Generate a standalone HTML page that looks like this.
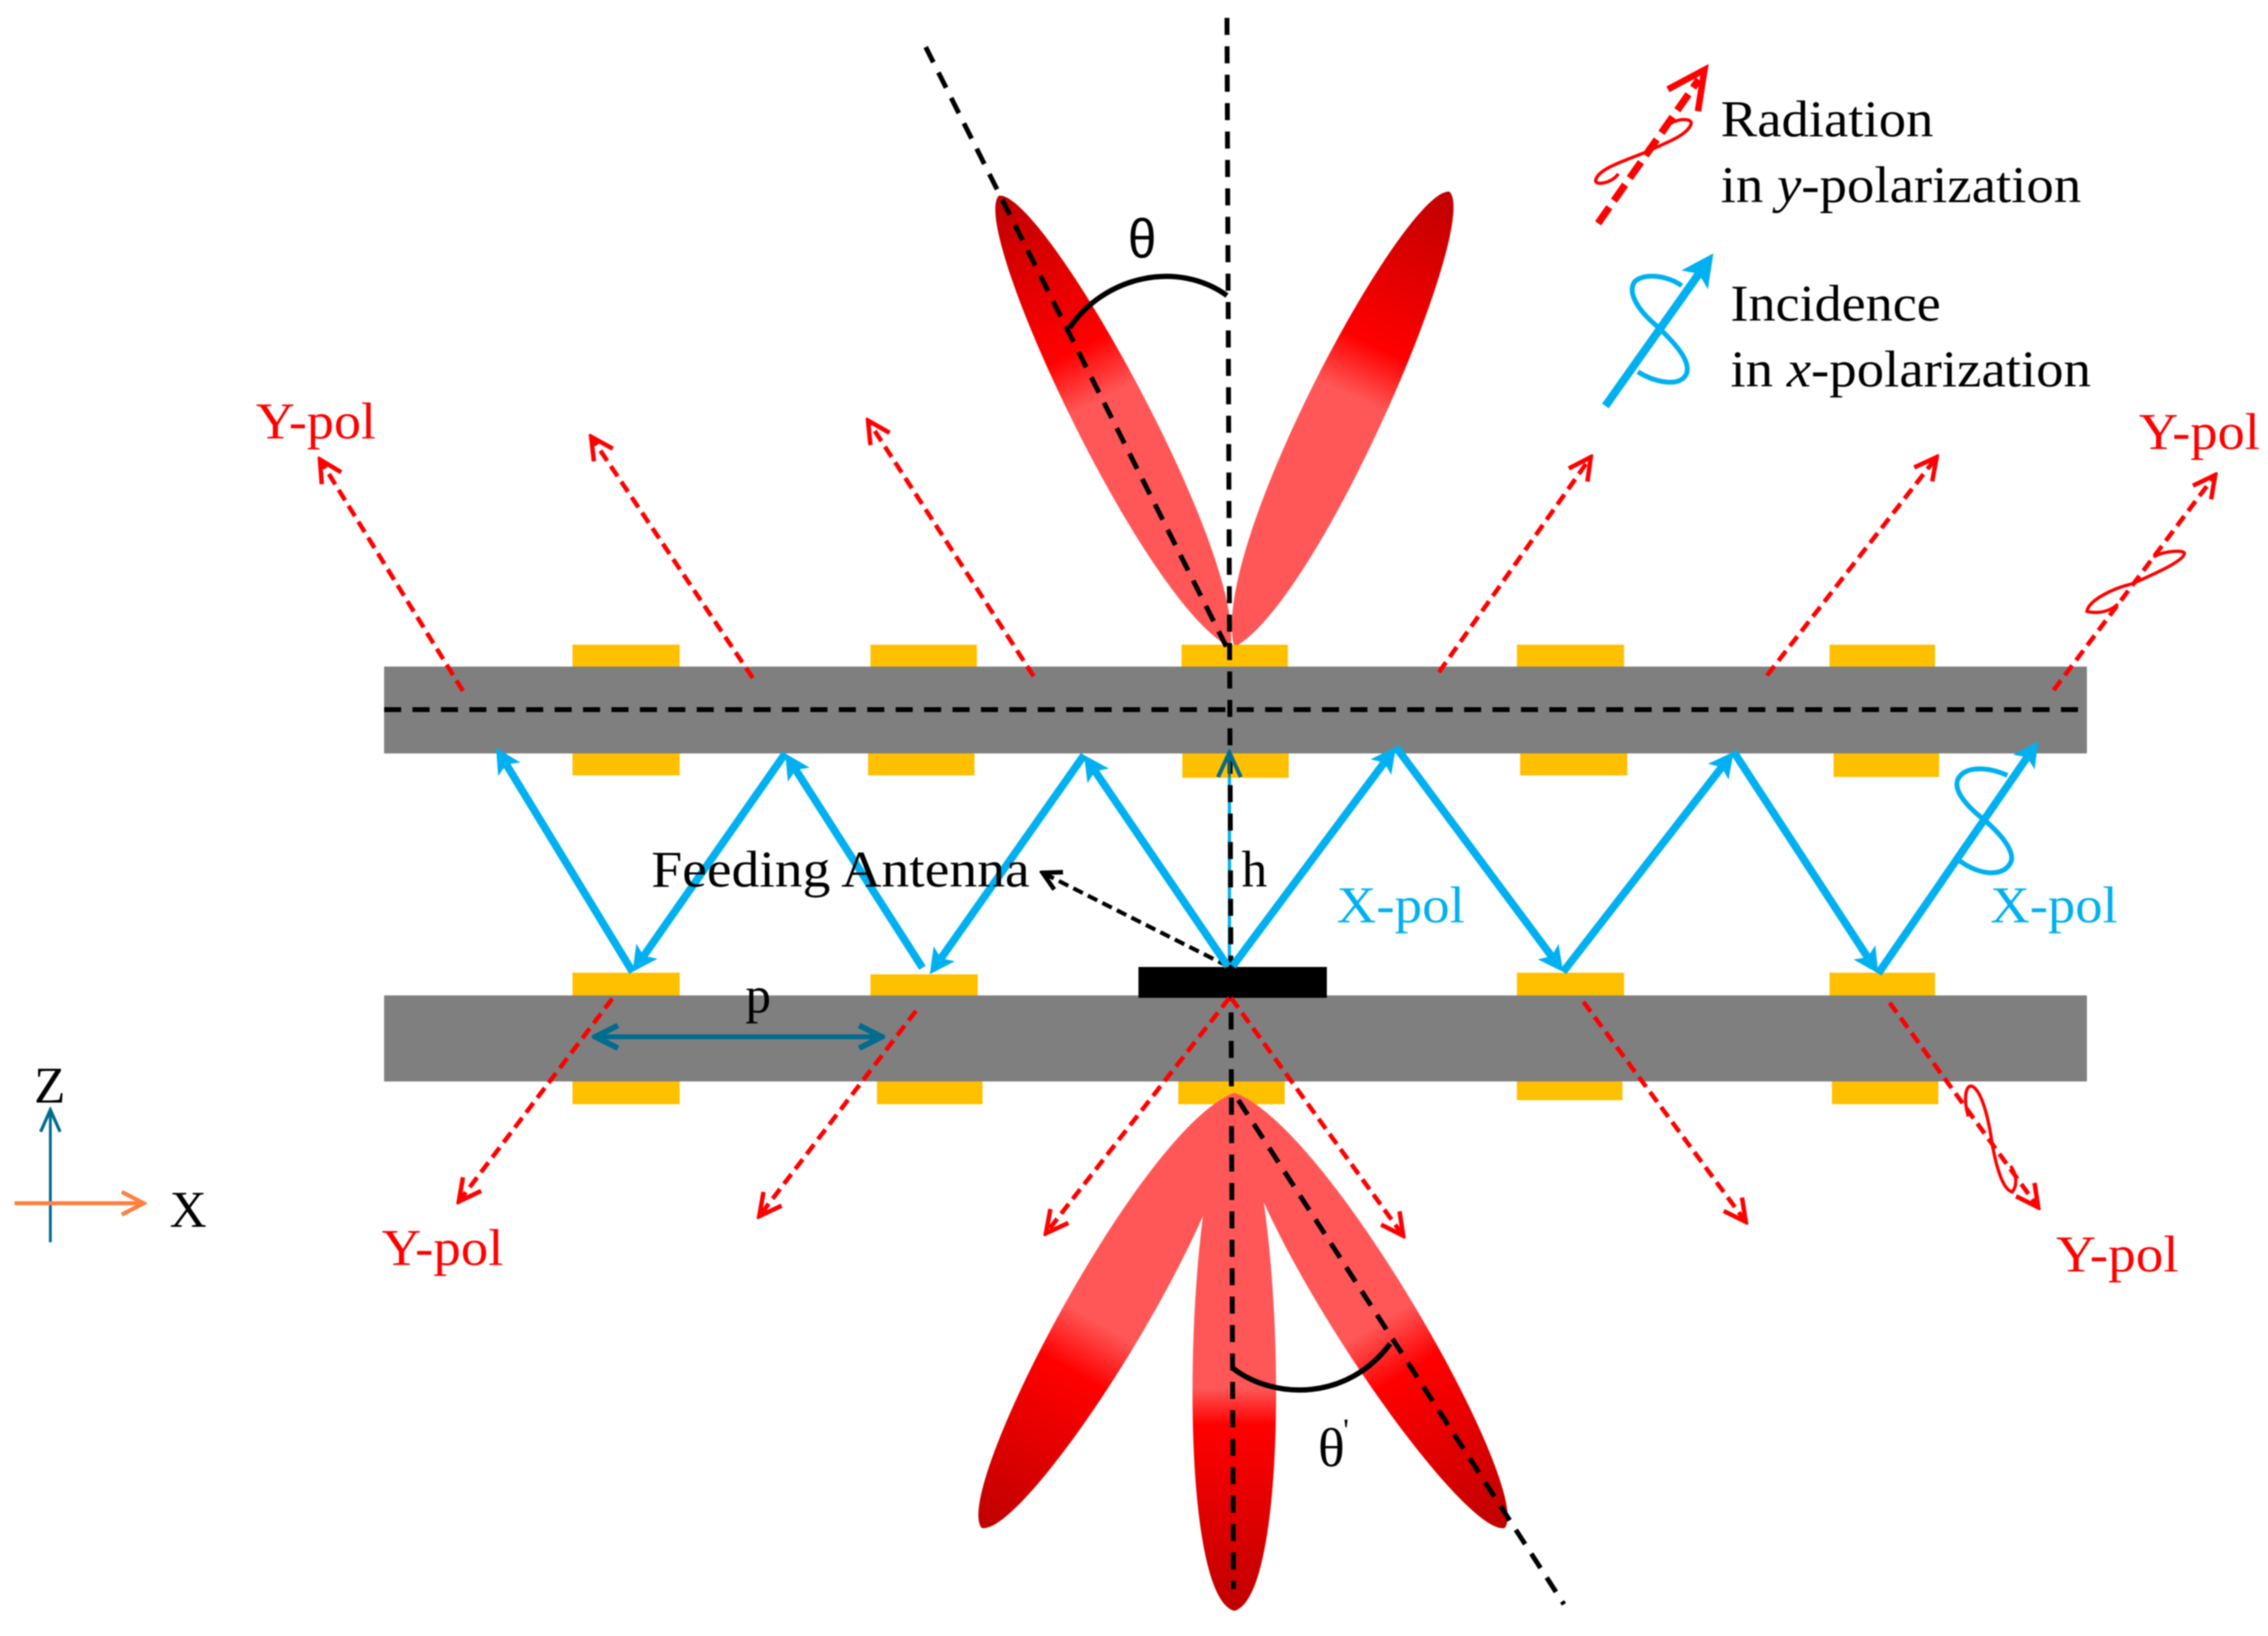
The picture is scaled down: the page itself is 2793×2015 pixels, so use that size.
<!DOCTYPE html>
<html><head><meta charset="utf-8"><style>
html,body{margin:0;padding:0;background:#fff;width:2793px;height:2015px;overflow:hidden}
svg{display:block;filter:blur(.9px)}
text{font-family:"Liberation Serif",serif;font-size:63px}
.r{fill:#ff0000}.b{fill:#00b0f0}.k{fill:#000}
.rd{stroke:#ff0000;stroke-width:5.5;stroke-dasharray:15 8;fill:none;marker-end:url(#mr)}
.bl{stroke:#00b0f0;stroke-width:9.5;fill:none;stroke-dasharray:95 100;marker-end:url(#mb)}
.kd{stroke:#000;stroke-width:6;stroke-dasharray:21 14;fill:none}
.rl{stroke:#ff0000;stroke-width:4;fill:none}
.bo{stroke:#00b0f0;stroke-width:6;fill:none}
</style></head><body>
<svg width="2793" height="2015" viewBox="0 0 2793 2015" xmlns="http://www.w3.org/2000/svg">
<defs>
<marker id="mr" markerUnits="userSpaceOnUse" viewBox="-40 -20 44 40" markerWidth="44" markerHeight="40" refX="0" refY="0" orient="auto"><path d="M-27,-14 L0,0 L-27,14" fill="none" stroke="#ff0000" stroke-width="5.5"/></marker>
<marker id="mk" markerUnits="userSpaceOnUse" viewBox="-40 -20 44 40" markerWidth="44" markerHeight="40" refX="0" refY="0" orient="auto"><path d="M-22,-12 L0,0 L-22,12" fill="none" stroke="#000" stroke-width="5.5"/></marker>
<marker id="mb" markerUnits="userSpaceOnUse" viewBox="-40 -20 44 40" markerWidth="44" markerHeight="40" refX="0" refY="0" orient="auto"><path d="M0,0 L-31,-16 L-24,0 L-31,16 Z" fill="#00b0f0"/></marker>
<marker id="mbl" markerUnits="userSpaceOnUse" viewBox="-50 -25 54 50" markerWidth="54" markerHeight="50" refX="0" refY="0" orient="auto"><path d="M0,0 L-40,-20 L-31,0 L-40,20 Z" fill="#00b0f0"/></marker>
<marker id="mt" markerUnits="userSpaceOnUse" viewBox="-40 -20 44 40" markerWidth="44" markerHeight="40" refX="0" refY="0" orient="auto"><path d="M-30,-14 L0,0 L-30,14" fill="none" stroke="#006c8e" stroke-width="5"/></marker>
<marker id="mts" markerUnits="userSpaceOnUse" viewBox="-40 -20 44 40" markerWidth="44" markerHeight="40" refX="0" refY="0" orient="auto-start-reverse"><path d="M-28,-14 L0,0 L-28,14" fill="none" stroke="#006c8e" stroke-width="7"/></marker>
<marker id="mz" markerUnits="userSpaceOnUse" viewBox="-40 -20 44 40" markerWidth="44" markerHeight="40" refX="0" refY="0" orient="auto"><path d="M-27,-12 L0,0 L-27,12" fill="none" stroke="#006c8e" stroke-width="4"/></marker>
<marker id="mx" markerUnits="userSpaceOnUse" viewBox="-40 -20 44 40" markerWidth="44" markerHeight="40" refX="0" refY="0" orient="auto"><path d="M-27,-14 L0,0 L-27,14" fill="none" stroke="#ff7f3f" stroke-width="5"/></marker>
<linearGradient id="g1" gradientUnits="userSpaceOnUse" x1="1230" y1="241" x2="1515" y2="797"><stop offset="0" stop-color="#bf0000"/><stop offset=".34" stop-color="#ff0000"/><stop offset=".45" stop-color="#ff5757"/><stop offset="1" stop-color="#ff5757"/></linearGradient>
<linearGradient id="g2" gradientUnits="userSpaceOnUse" x1="1785" y1="236" x2="1520" y2="797"><stop offset="0" stop-color="#bf0000"/><stop offset=".34" stop-color="#ff0000"/><stop offset=".45" stop-color="#ff5757"/><stop offset="1" stop-color="#ff5757"/></linearGradient>
<linearGradient id="g3" gradientUnits="userSpaceOnUse" x1="1209" y1="1882" x2="1520" y2="1346"><stop offset="0" stop-color="#bf0000"/><stop offset=".36" stop-color="#ff0000"/><stop offset=".47" stop-color="#ff5757"/><stop offset="1" stop-color="#ff5757"/></linearGradient>
<linearGradient id="g4" gradientUnits="userSpaceOnUse" x1="1853" y1="1882" x2="1520" y2="1346"><stop offset="0" stop-color="#bf0000"/><stop offset=".36" stop-color="#ff0000"/><stop offset=".47" stop-color="#ff5757"/><stop offset="1" stop-color="#ff5757"/></linearGradient>
<linearGradient id="g5" gradientUnits="userSpaceOnUse" x1="1520" y1="1984" x2="1520" y2="1346"><stop offset="0" stop-color="#bf0000"/><stop offset=".36" stop-color="#ff0000"/><stop offset=".43" stop-color="#ff5757"/><stop offset="1" stop-color="#ff5757"/></linearGradient>
</defs>
<rect width="2793" height="2015" fill="#fff"/>

<!-- top lobes -->
<path d="M1515 797 C1410.1 745.7 1192.4 281.5 1230 241 C1284.8 233.9 1534.4 681.5 1515 797 Z" fill="url(#g1)"/>
<path d="M1520 797 C1623.1 742.8 1824.1 275 1785 236 C1729.9 230.6 1487 678 1520 797 Z" fill="url(#g2)"/>

<!-- patches -->
<g fill="#ffc000">
<rect x="705" y="794" width="132" height="30"/><rect x="1072" y="794" width="131" height="30"/><rect x="1455" y="794" width="131" height="30"/><rect x="1868" y="794" width="132" height="30"/><rect x="2253" y="794" width="130" height="30"/>
<rect x="705" y="925" width="132" height="30"/><rect x="1069" y="925" width="131" height="30"/><rect x="1456" y="925" width="131" height="33"/><rect x="1872" y="925" width="132" height="30"/><rect x="2258" y="925" width="130" height="32"/>
<rect x="705" y="1198" width="132" height="32"/><rect x="1072" y="1200" width="132" height="32"/><rect x="1868" y="1198" width="132" height="32"/><rect x="2253" y="1198" width="130" height="32"/>
<rect x="705" y="1329" width="132" height="31"/><rect x="1080" y="1329" width="130" height="31"/><rect x="1451" y="1329" width="131" height="31"/><rect x="1868" y="1329" width="130" height="26"/><rect x="2256" y="1329" width="131" height="31"/>
</g>
<!-- plates -->
<rect x="473" y="821" width="2097" height="107" fill="#7f7f7f"/>
<rect x="473" y="1226" width="2097" height="106" fill="#7f7f7f"/>
<rect x="1402" y="1191" width="232" height="38" fill="#000"/>

<!-- bottom lobes -->
<path d="M1520 1346 C1405.9 1387.2 1170.7 1838.3 1209 1882 C1265.9 1893.5 1540.8 1465.6 1520 1346 Z" fill="url(#g3)"/>
<path d="M1520 1346 C1636.2 1385.2 1889.7 1836.9 1853 1882 C1796.3 1894.9 1503.8 1467.6 1520 1346 Z" fill="url(#g4)"/>
<path d="M1520 1346 C1458 1442 1445 1965 1520 1984 C1595 1965 1582 1442 1520 1346 Z" fill="url(#g5)"/>

<!-- black dashed axes -->
<line class="kd" x1="473" y1="874" x2="2570" y2="874"/>
<line x1="1514" y1="957" x2="1514" y2="1190" stroke="#00b0f0" stroke-width="4"/>
<line class="kd" x1="1511" y1="22" x2="1519" y2="1957"/>
<line class="kd" x1="1140" y1="58" x2="1512" y2="800"/>
<line class="kd" x1="1525" y1="1355" x2="1926" y2="1976"/>
<line x1="1514" y1="1190" x2="1514" y2="927" stroke="none" marker-end="url(#mt)"/>
<path d="M1514 927 L1514 957" stroke="#006c8e" stroke-width="3"/>
<line x1="1512" y1="1190" x2="1284" y2="1075" stroke="#000" stroke-width="5" stroke-dasharray="13 7" marker-end="url(#mk)"/>

<!-- arcs -->
<path d="M1317 404 C1360 340 1450 320 1511 364" fill="none" stroke="#000" stroke-width="6.5"/>
<path d="M1518 1685 C1570 1725 1660 1725 1712 1655" fill="none" stroke="#000" stroke-width="6.5"/>

<!-- red dashed arrows -->
<path class="rd" d="M570 851 L394 566"/>
<path class="rd" d="M927 835 L728 538"/>
<path class="rd" d="M1273 833 L1069 518"/>
<path class="rd" d="M1772 828 L1959 563"/>
<path class="rd" d="M2176 832 L2385 563"/>
<path class="rd" d="M2529 850 L2728 585"/>
<path class="rd" d="M754 1230 L565 1480"/>
<path class="rd" d="M1128 1245 L935 1498"/>
<path class="rd" d="M1514 1229 L1288 1519"/>
<path class="rd" d="M1516 1229 L1728 1522"/>
<path class="rd" d="M1950 1234 L2150 1505"/>
<path class="rd" d="M2327 1235 L2510 1487"/>

<!-- blue zigzag -->
<g>
<line class="bl" x1="1512" y1="1190" x2="1335" y2="930" pathLength="100"/>
<line class="bl" x1="1335" y1="930" x2="1145" y2="1200" pathLength="100"/>
<line class="bl" x1="1136" y1="1192" x2="967" y2="928" pathLength="100"/>
<line class="bl" x1="967" y1="928" x2="779" y2="1197" pathLength="100"/>
<line class="bl" x1="779" y1="1197" x2="611" y2="921" pathLength="100"/>
<line class="bl" x1="1518" y1="1190" x2="1719" y2="920" pathLength="100"/>
<line class="bl" x1="1719" y1="920" x2="1925" y2="1197" pathLength="100"/>
<line class="bl" x1="1925" y1="1197" x2="2135" y2="926" pathLength="100"/>
<line class="bl" x1="2135" y1="926" x2="2313" y2="1199" pathLength="100"/>
<line class="bl" x1="2313" y1="1199" x2="2510" y2="913" pathLength="100"/>
</g>

<!-- pol loops -->
<path class="bo" d="M2472 955 C2450 945 2420 942 2411 960 C2405 975 2425 995 2440 1007 C2460 1023 2480 1045 2477 1060 C2470 1080 2440 1080 2413 1060"/>
<path class="rl" d="M2652 686 C2665 678 2692 677 2690 682 C2688 692 2650 708 2626 719 C2600 725 2572 740 2570 753 C2585 757 2600 752 2608 744"/>
<path class="rl" d="M2424 1375 C2418 1355 2420 1335 2429 1338 C2442 1345 2450 1385 2453 1407 C2457 1430 2465 1465 2478 1468 C2485 1460 2483 1445 2476 1436"/>

<!-- p arrow and axes -->
<line x1="733" y1="1277" x2="1086" y2="1277" stroke="#006c8e" stroke-width="6" marker-start="url(#mts)" marker-end="url(#mts)"/>
<line x1="62" y1="1530" x2="62" y2="1367" stroke="#006c8e" stroke-width="3.5" marker-end="url(#mz)"/>
<line x1="18" y1="1482" x2="177" y2="1482" stroke="#ff7f3f" stroke-width="5" marker-end="url(#mx)"/>

<!-- legend -->
<line x1="1968" y1="275" x2="2092" y2="98" stroke="#ff0000" stroke-width="9" stroke-dasharray="24 10"/>
<path d="M2054 110 L2099 86 L2091 137" fill="none" stroke="#ff0000" stroke-width="8"/>
<path class="rl" d="M2057 152 C2070 145 2086 146 2082 154 C2076 168 2050 176 2028 187 C2000 198 1968 208 1965 222 C1964 229 1985 226 1993 214"/>
<line x1="1977" y1="500" x2="2110" y2="312" stroke="#00b0f0" stroke-width="10" stroke-dasharray="90 100" pathLength="100" marker-end="url(#mbl)"/>
<path class="bo" d="M2071 352 C2055 340 2025 335 2013 347 C2003 362 2020 385 2042 403 C2065 425 2082 445 2077 460 C2070 477 2040 472 2017 458"/>

<!-- text -->
<text class="r" x="315" y="540" textLength="148" lengthAdjust="spacingAndGlyphs">Y-pol</text>
<text class="r" x="2634" y="553" textLength="149" lengthAdjust="spacingAndGlyphs">Y-pol</text>
<text class="r" x="470" y="1558" textLength="150" lengthAdjust="spacingAndGlyphs">Y-pol</text>
<text class="r" x="2532" y="1566" textLength="151" lengthAdjust="spacingAndGlyphs">Y-pol</text>
<text class="b" x="1646" y="1136" textLength="158" lengthAdjust="spacingAndGlyphs">X-pol</text>
<text class="b" x="2451" y="1136" textLength="157" lengthAdjust="spacingAndGlyphs">X-pol</text>
<text class="k" x="2119" y="168" textLength="262" lengthAdjust="spacingAndGlyphs">Radiation</text>
<text class="k" x="2119" y="249" textLength="444" lengthAdjust="spacingAndGlyphs">in <tspan font-style="italic">y</tspan>-polarization</text>
<text class="k" x="2131" y="395" textLength="259" lengthAdjust="spacingAndGlyphs">Incidence</text>
<text class="k" x="2131" y="476" textLength="444" lengthAdjust="spacingAndGlyphs">in <tspan font-style="italic">x</tspan>-polarization</text>
<text class="k" x="802" y="1092" textLength="466" lengthAdjust="spacingAndGlyphs">Feeding Antenna</text>
<text class="k" x="1529" y="1092">h</text>
<text class="k" x="918" y="1247">p</text>
<text class="k" x="42" y="1358">Z</text>
<text class="k" x="209" y="1511">X</text>
<text class="k" x="1389" y="317" style="font-family:'Liberation Sans',sans-serif;font-size:68px" textLength="35" lengthAdjust="spacingAndGlyphs">θ</text>
<text class="k" x="1623" y="1806" style="font-size:68px" textLength="33" lengthAdjust="spacingAndGlyphs">θ</text>
<text class="k" x="1654" y="1775" style="font-size:40px">'</text>
</svg>
</body></html>
